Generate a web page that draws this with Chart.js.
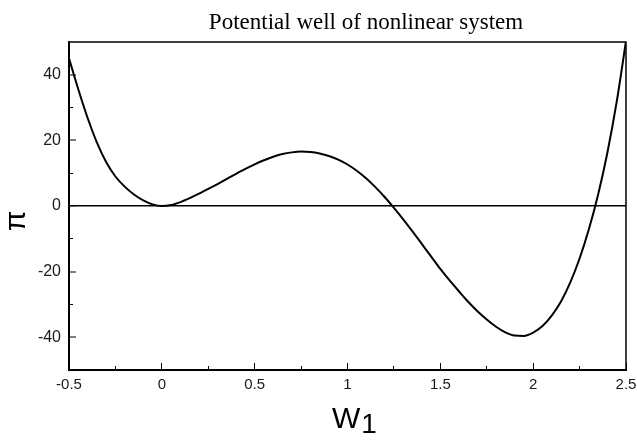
<!DOCTYPE html>
<html>
<head>
<meta charset="utf-8">
<script src="https://cdn.jsdelivr.net/npm/chart.js@4.4.1/dist/chart.umd.min.js"></script>
<style>
  html, body { margin: 0; padding: 0; background: #ffffff; }
  canvas { display: block; }
</style>
</head>
<body>
<canvas id="chart" width="637" height="441"></canvas>
<script>
// ---- Text ----
const titleText = 'Potential well of nonlinear system';
const yAxisLabel = 'π';
const xAxisLabel = 'W';
const xAxisLabelSub = '1';

// ---- Data ----
const w1Values = [
  -0.50, -0.45, -0.40, -0.35, -0.30, -0.25, -0.20, -0.15, -0.10, -0.05,
   0.00,  0.05,  0.10,  0.15,  0.20,  0.25,  0.30,  0.35,  0.40,  0.45,
   0.50,  0.55,  0.60,  0.65,  0.70,  0.75,  0.80,  0.85,  0.90,  0.95,
   1.00,  1.05,  1.10,  1.15,  1.20,  1.25,  1.30,  1.35,  1.40,  1.45,
   1.50,  1.55,  1.60,  1.65,  1.70,  1.75,  1.80,  1.85,  1.90,  1.95,
   2.00,  2.05,  2.10,  2.15,  2.20,  2.25,  2.30,  2.35,  2.40,  2.45,
   2.50
];
const piValues = [
  45.0, 35.6, 26.9, 19.4, 13.4, 9.0, 5.9, 3.5, 1.7, 0.5,
   0.0, 0.3, 1.2, 2.4, 3.75, 5.2, 6.7, 8.25, 9.8, 11.3,
  12.7, 13.95, 15.0, 15.85, 16.35, 16.6, 16.45, 16.0, 15.25, 14.15,
  12.65, 10.75, 8.45, 5.75, 2.75, -0.55, -4.05, -7.75, -11.55, -15.35,
 -19.2, -22.7, -26.0, -29.2, -32.1, -34.6, -36.8, -38.5, -39.5, -39.6,
 -38.6, -36.6, -33.4, -29.1, -23.3, -16.0, -7.1, 3.5, 16.3, 31.8,
  50.3
];

// ---- Axes ----
const xMin = -0.5, xMax = 2.5;
const yMin = -50, yMax = 50;
const xTickValues = [-0.5, 0, 0.5, 1, 1.5, 2, 2.5];
const xTickLabels = ['-0.5', '0', '0.5', '1', '1.5', '2', '2.5'];
const xMinorTickValues = [-0.25, 0.25, 0.75, 1.25, 1.75, 2.25];
const yTickValues = [-40, -20, 0, 20, 40];
const yTickLabels = ['-40', '-20', '0', '20', '40'];
const yMinorTickValues = [-30, -10, 10, 30];

const sans = 'Liberation Sans, Arial, Helvetica, sans-serif';
const serif = 'Liberation Serif, Times New Roman, serif';

const framePlugin = {
  id: 'frame',
  beforeDatasetsDraw(chart) {
    const { ctx, chartArea: { left, top, right, bottom } } = chart;
    ctx.save();
    ctx.strokeStyle = '#000';
    ctx.lineWidth = 1.5;
    ctx.beginPath();
    ctx.moveTo(left, top);
    ctx.lineTo(right, top);
    ctx.lineTo(right, bottom);
    ctx.stroke();
    ctx.restore();
  }
};

const labelsPlugin = {
  id: 'labels',
  afterDraw(chart) {
    const ctx = chart.ctx;
    ctx.save();
    ctx.fillStyle = '#000';
    // title
    ctx.font = '23px ' + serif;
    ctx.textAlign = 'center';
    ctx.textBaseline = 'alphabetic';
    ctx.fillText(titleText, 366, 29);
    // y label (rotated)
    ctx.save();
    ctx.translate(17, 221);
    ctx.rotate(-Math.PI / 2);
    ctx.font = '30px ' + sans;
    ctx.textAlign = 'center';
    ctx.textBaseline = 'middle';
    ctx.fillText(yAxisLabel, 0, 0);
    ctx.restore();
    // x label W with subscript 1
    ctx.font = '30px ' + sans;
    ctx.textAlign = 'left';
    ctx.textBaseline = 'alphabetic';
    const wWidth = ctx.measureText(xAxisLabel).width;
    const x0 = 332;
    ctx.fillText(xAxisLabel, x0, 428);
    ctx.font = '28px ' + sans;
    ctx.fillText(xAxisLabelSub, x0 + wWidth + 1, 433);
    ctx.restore();
  }
};

new Chart(document.getElementById('chart'), {
  type: 'line',
  data: {
    datasets: [{
      data: w1Values.map((x, i) => ({ x: x, y: piValues[i] })),
      borderColor: '#000',
      borderWidth: 2,
      pointRadius: 0,
      fill: false,
      cubicInterpolationMode: 'monotone',
      xAxisID: 'x',
      yAxisID: 'y'
    }]
  },
  options: {
    responsive: false,
    devicePixelRatio: 1,
    animation: false,
    layout: { padding: { top: 42, right: 11, left: 0, bottom: 0 } },
    plugins: {
      legend: { display: false },
      tooltip: { enabled: false },
      title: { display: false }
    },
    scales: {
      x: {
        type: 'linear', position: 'bottom', weight: 1,
        min: xMin, max: xMax,
        afterBuildTicks: s => { s.ticks = xTickValues.map(v => ({ value: v })); },
        afterFit: s => { s.height = 71; s.paddingLeft = 0; s.paddingRight = 0; },
        border: { display: true, color: '#000', width: 2 },
        grid: { drawOnChartArea: false, drawTicks: true, tickLength: -7, tickWidth: 1, tickColor: '#000' },
        ticks: {
          padding: 13, maxRotation: 0, autoSkip: false, color: '#1a1a1a',
          font: { family: sans, size: 15 },
          callback: (v, i) => xTickLabels[i]
        }
      },
      xMinor: {
        type: 'linear', position: 'bottom', weight: 0,
        min: xMin, max: xMax,
        afterBuildTicks: s => { s.ticks = xMinorTickValues.map(v => ({ value: v })); },
        afterFit: s => { s.height = 0; s.paddingLeft = 0; s.paddingRight = 0; },
        border: { display: false },
        grid: { drawOnChartArea: false, drawTicks: true, tickLength: -4, tickWidth: 1, tickColor: '#000' },
        ticks: { display: false, autoSkip: false }
      },
      y: {
        type: 'linear', position: 'left', weight: 1,
        min: yMin, max: yMax,
        afterBuildTicks: s => { s.ticks = yTickValues.map(v => ({ value: v })); },
        afterFit: s => { s.width = 69; s.paddingTop = 0; s.paddingBottom = 0; },
        border: { display: true, color: '#000', width: 2 },
        grid: {
          drawOnChartArea: true, drawTicks: true, tickLength: -7, tickWidth: 1, tickColor: '#000',
          color: c => (c.tick && c.tick.value === 0) ? '#000' : 'rgba(0,0,0,0)',
          lineWidth: c => (c.tick && c.tick.value === 0) ? 1.5 : 0
        },
        ticks: {
          padding: 15, autoSkip: false, color: '#1a1a1a',
          font: { family: sans, size: 16 },
          callback: (v, i) => yTickLabels[i]
        }
      },
      yMinor: {
        type: 'linear', position: 'left', weight: 0,
        min: yMin, max: yMax,
        afterBuildTicks: s => { s.ticks = yMinorTickValues.map(v => ({ value: v })); },
        afterFit: s => { s.width = 0; s.paddingTop = 0; s.paddingBottom = 0; },
        border: { display: false },
        grid: { drawOnChartArea: false, drawTicks: true, tickLength: -4, tickWidth: 1, tickColor: '#000' },
        ticks: { display: false, autoSkip: false }
      }
    }
  },
  plugins: [framePlugin, labelsPlugin]
});
</script>
</body>
</html>
